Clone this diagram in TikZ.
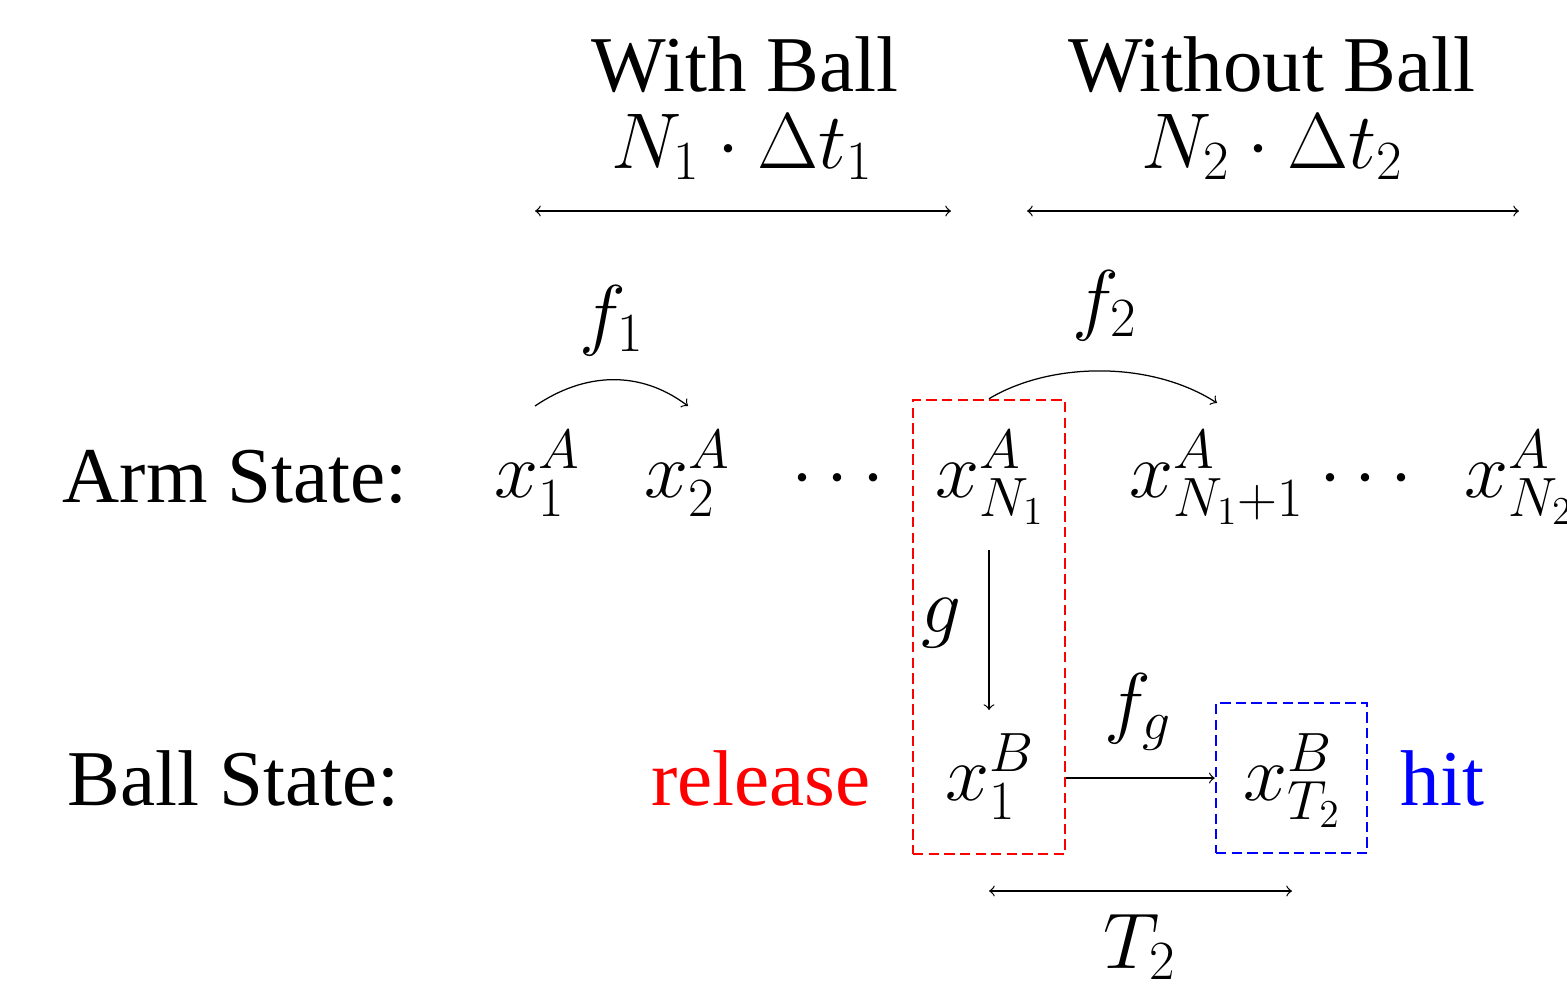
\documentclass[tikz,border=0pt]{standalone}
\usepackage{fix-cm}
\usepackage[no-math]{fontspec}
\setmainfont{Liberation Serif}
\begin{document}
\begin{tikzpicture}[x=0.32pt,y=-0.32pt,
  every node/.style={font=\fontsize{25.3}{30}\selectfont, inner sep=0pt},
  lbl/.style={anchor=base west},
  ctr/.style={anchor=base},
  arr/.style={->, line width=0.4pt},
  darr/.style={<->, line width=0.4pt},
  redbox/.style={draw=red, dash pattern=on 3.3pt off 1.7pt, line width=0.8pt},
  bluebox/.style={draw=blue, dash pattern=on 3.3pt off 1.7pt, line width=0.8pt}]
\useasboundingbox (0,0) rectangle (1567,988);
% headers
\node[ctr] (wb) at (745,91) {With Ball};
\node[ctr] (wbt) at (742,168) {$N_1\cdot\Delta t_1$};
\node[ctr] (wob) at (1272,91) {Without Ball};
\node[ctr] (wobt) at (1272,168) {$N_2\cdot\Delta t_2$};
\coordinate (s1a) at (535,211); \coordinate (s1b) at (951,211);
\coordinate (s2a) at (1027,211); \coordinate (s2b) at (1519,211);
\draw[darr] (s1a) -- (s1b);
\draw[darr] (s2a) -- (s2b);
% arm row
\node[lbl] (arm) at (62,502) {Arm State:};
\node[lbl] (x1) at (494,497) {$x_1^A$};
\node[lbl] (x2) at (644,497) {$x_2^A$};
\node[ctr] (d1) at (838,497) {$\cdots$};
\node[lbl] (xN1) at (935,497) {$x_{N_1}^A$};
\node[lbl] (xN1p) at (1129,497) {$x_{N_1+1}^A$};
\node[ctr] (d2) at (1366,497) {$\cdots$};
\node[lbl] (xN2) at (1464,497) {$x_{N_2}^A$};
% ball row
\node[lbl] (ball) at (67,805) {Ball State:};
\node[ctr, text=red] (rel) at (761,805) {release};
\node[lbl] (xB1) at (945,800) {$x_1^B$};
\node[lbl] (xBT) at (1243,800) {$x_{T_2}^B$};
\node[lbl, text=blue] (hit) at (1400,805) {hit};
% boxes
\node[redbox, minimum width=152*0.32pt, minimum height=454*0.32pt] (rb) at (989,627) {};
\node[bluebox, minimum width=151*0.32pt, minimum height=150*0.32pt] (bb) at (1291.5,778) {};
% f1, f2
\coordinate (f1s) at (535,406); \coordinate (f1e) at (688,406);
\draw[arr] (f1s) .. controls (585,372) and (640,370) .. (f1e);
\node[ctr] (f1) at (612,340) {$f_1$};
\coordinate (f2e) at (1217,403);
\draw[arr] (rb.north) .. controls (1050,362) and (1150,360) .. (f2e);
\node[ctr] (f2) at (1105,325) {$f_2$};
% g
\coordinate (gs) at (989,550); \coordinate (ge) at (989,710);
\draw[arr] (gs) -- (ge);
\node[ctr] (g) at (941,632) {$g$};
% fg
\draw[arr] (rb.east |- bb.west) -- (bb.west);
\node[ctr] (fg) at (1138,728) {$f_g$};
% T2
\coordinate (t2a) at (989,891); \coordinate (t2b) at (1292,891);
\draw[darr] (t2a) -- (t2b);
\node[ctr] (T2) at (1140,968) {$T_2$};
\end{tikzpicture}
\end{document}
